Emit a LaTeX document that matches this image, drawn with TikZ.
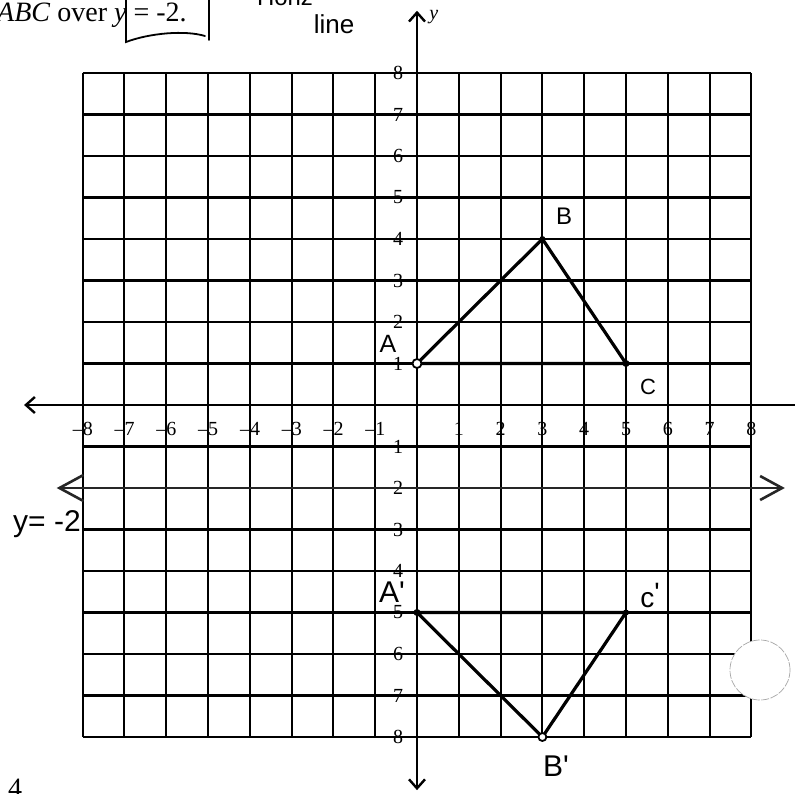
\documentclass[tikz,border=0pt]{standalone}
\usepackage{fontspec}
\setmainfont{Liberation Serif}
\newfontfamily\handfont{Liberation Sans}
\usetikzlibrary{arrows.meta}
\begin{document}
\begin{tikzpicture}[x=1pt,y=-1pt,
  gridline/.style={line width=2.1pt,black},
  axisline/.style={line width=2.4pt,black},
  tick/.style={font=\fontsize{20}{20}\selectfont,inner sep=0pt},
  hand/.style={font=\handfont\fontsize{24}{24}\selectfont,inner sep=0pt},
  tri/.style={line width=3.2pt,black,line join=round,line cap=round},
  dotmark/.style={circle,fill=black,inner sep=0pt,minimum size=7pt},
  openmark/.style={circle,draw=black,fill=white,line width=1.8pt,inner sep=0pt,minimum size=9pt},
]
\useasboundingbox (0,0) rectangle (795,793);
\fill[white] (0,0) rectangle (795,793);

% title and hand-drawn box
\node[anchor=base west,font=\fontsize{28}{28}\selectfont,inner sep=0pt] (title) at (-3,21) {\textit{ABC} over \textit{y} = -2.};
\coordinate (bx1) at (126,0);
\coordinate (bx2) at (126,42);
\coordinate (bx3) at (205,36);
\coordinate (bx4) at (209,0);
\coordinate (bx5) at (209,40);
\draw[line width=1.8pt,line cap=round] (bx1) -- (bx2) .. controls (150,33) and (185,30) .. (bx3);
\draw[line width=1.8pt,line cap=round] (bx4) -- (bx5);
\node[hand,anchor=base] (horiz) at (285,5) {Horiz};
\node[hand,font=\handfont\fontsize{26}{26}\selectfont] (linew) at (334,24) {line};

\begin{scope}[shift={(417,405)},x=41.8pt,y=41.5pt]
  % grid
  \foreach \i in {-8,...,8} \draw[gridline] (\i,-8) -- (\i,8);
  \foreach \j in {-8,...,8} \draw[gridline] (-8,\j) -- (8,\j);
  % axes
  \coordinate (xl) at (-9.4,0);
  \coordinate (xr) at (9.3,0);
  \coordinate (yt) at (0,9.5);
  \coordinate (yb) at (0,-9.28);
  \draw[axisline,{Straight Barb[length=9pt,width=16pt]}-] (xl) -- (xr);
  \draw[axisline,{Straight Barb[length=9pt,width=16pt]}-{Straight Barb[length=9pt,width=16pt]}] (yb) -- (yt);
  \node[tick,font=\fontsize{20}{20}\selectfont\itshape] (ylab) at (0.4,9.35) {y};
  % tick labels
  \foreach \i in {1,...,8} {
    \node[tick] (xp\i) at (\i,-0.58) {\i};
    \node[tick,anchor=west] (xn\i) at (-\i,-0.58) {\llap{\textendash}\i};
    \node[tick] (yp\i) at (-0.45,\i) {\i};
    \node[tick] (yn\i) at (-0.45,-\i) {\i};
  }
  % vertices
  \coordinate (A) at (0,1);
  \coordinate (B) at (3,4);
  \coordinate (C) at (5,1);
  \coordinate (Ap) at (0,-5);
  \coordinate (Bp) at (3,-8);
  \coordinate (Cp) at (5,-5);
  \draw[tri] (A) -- (B) -- (C) -- cycle;
  \draw[tri] (Ap) -- (Bp) -- (Cp) -- cycle;
  \node[openmark] (mA) at (A) {};
  \node[dotmark,minimum size=6pt] (mB) at (B) {};
  \node[dotmark] (mC) at (C) {};
  \node[dotmark] (mAp) at (Ap) {};
  \node[dotmark,minimum size=6pt] (mCp) at (Cp) {};
  \node[openmark,minimum size=8pt] (mBp) at (Bp) {};
  % reflection line y = -2
  \coordinate (Ll) at (-8.62,-2);
  \coordinate (Lr) at (8.8,-2);
  \draw[line width=2.6pt,color=black!85,{Straight Barb[length=24pt,width=26pt]}-{Straight Barb[length=22pt,width=24pt]}] (Ll) -- (Lr);
\end{scope}

% handwritten labels
\node[hand,font=\handfont\fontsize{25}{25}\selectfont] (labA) at (388,344) {A};
\node[hand,font=\handfont\fontsize{24}{24}\selectfont] (labB) at (564,216) {B};
\node[hand,font=\handfont\fontsize{22}{22}\selectfont] (labC) at (648,387) {C};
\node[hand,font=\handfont\fontsize{30}{30}\selectfont] (labAp) at (392,592) {A'};
\node[hand,font=\handfont\fontsize{28}{28}\selectfont] (labCp) at (650,595) {c\raisebox{5pt}{'}};
\node[hand,font=\handfont\fontsize{30}{30}\selectfont] (labBp) at (556,766) {B'};
\node[hand,font=\handfont\fontsize{30}{30}\selectfont,anchor=base west] (laby) at (13,531) {y= -2};
\node[anchor=base west,font=\fontsize{28}{28}\selectfont,inner sep=0pt] (four) at (8,797) {4};

% white circle
\node[circle,draw=gray!70,line width=0.7pt,fill=white,minimum size=60pt,inner sep=0pt,dash pattern=on 8pt off 1.5pt] (hole) at (760,670) {};
\end{tikzpicture}
\end{document}
